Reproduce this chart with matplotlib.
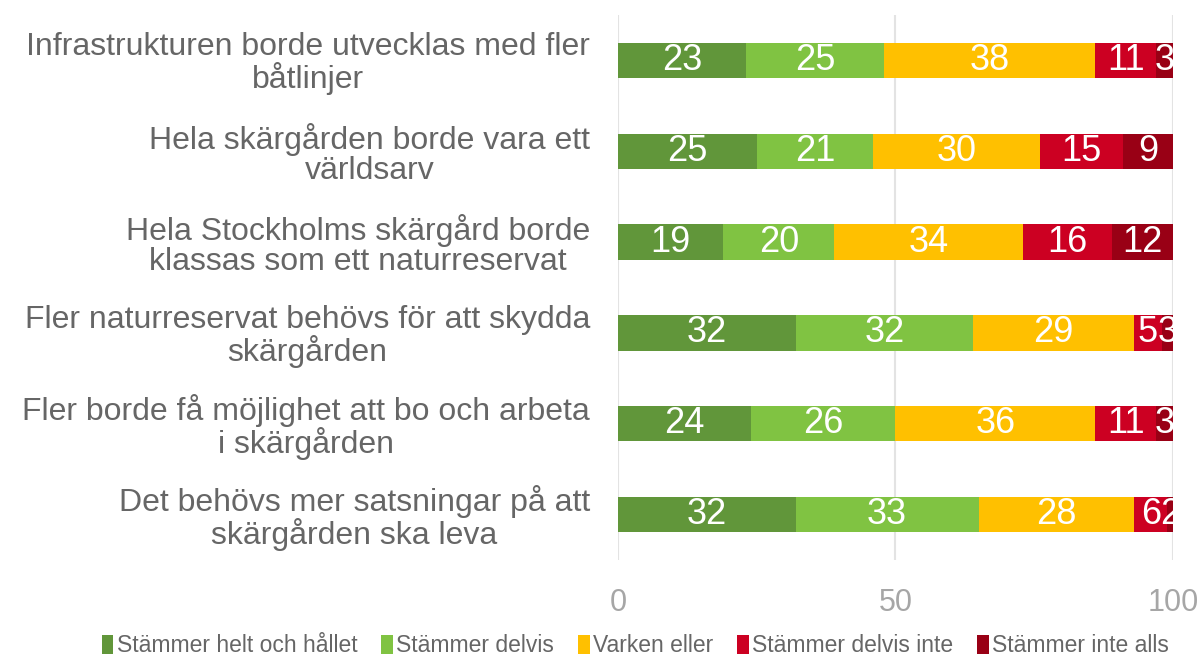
import matplotlib.pyplot as plt
import numpy as np

categories = [
    "Infrastrukturen borde utvecklas med fler\nbåtlinjer",
    "Hela skärgården borde vara ett\nvärldsarv",
    "Hela Stockholms skärgård borde\nklassas som ett naturreservat",
    "Fler naturreservat behövs för att skydda\nskärgården",
    "Fler borde få möjlighet att bo och arbeta\ni skärgården",
    "Det behövs mer satsningar på att\nskärgården ska leva",
]
series_names = ["Stämmer helt och hållet", "Stämmer delvis", "Varken eller",
                "Stämmer delvis inte", "Stämmer inte alls"]
helt = [23, 25, 19, 32, 24, 32]
delvis = [25, 21, 20, 32, 26, 33]
varken = [38, 30, 34, 29, 36, 28]
delvis_inte = [11, 15, 16, 5, 11, 6]
inte_alls = [3, 9, 12, 3, 3, 2]
x_ticks = [0, 50, 100]

colors = ['#61963a', '#80c342', '#ffc000', '#cc0022', '#990015']

plt.rcParams['font.family'] = ['Liberation Sans', 'DejaVu Sans']

fig = plt.figure(figsize=(11.99, 6.63), dpi=100)
ax = fig.add_axes([0.5154, 0.1554, 0.4629, 0.822])

y = np.arange(len(categories))
left = np.zeros(len(categories))
for name, vals, col in zip(series_names, [helt, delvis, varken, delvis_inte, inte_alls], colors):
    vals = np.array(vals, dtype=float)
    bars = ax.barh(y, vals, left=left, height=0.39, color=col, label=name, zorder=2)
    labels = ax.bar_label(bars, labels=[str(int(v)) for v in vals], label_type='center',
                          color='white', fontsize=26)
    for t in labels:
        t.set_clip_on(True)
    left += vals

ax.set_xlim(0, 100)
ax.set_ylim(len(categories) - 0.5, -0.5)
ax.set_xticks(x_ticks)
ax.set_yticks(y)
ax.set_yticklabels(categories, fontsize=23, color='#666666', multialignment='center',
                   linespacing=1.0)
ax.tick_params(axis='y', length=0, pad=20)
ax.tick_params(axis='x', length=0, pad=20, labelsize=22, labelcolor='#a6a6a6')
ax.grid(axis='x', color='#e3e3e3', linewidth=1.5, zorder=0)
for s in ax.spines.values():
    s.set_visible(False)

fig.legend(loc='lower center', bbox_to_anchor=(0.530, -0.022), ncol=5, frameon=False,
           fontsize=16.5, labelcolor='#666666', handlelength=0.5, handleheight=0.9,
           handletextpad=0.15, columnspacing=1.05)

plt.savefig('out.png', dpi=100)
